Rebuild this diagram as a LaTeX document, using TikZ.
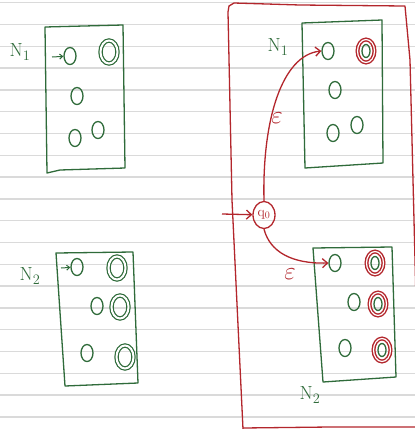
\documentclass[tikz,border=0pt]{standalone}
\usetikzlibrary{shapes.geometric,arrows.meta}
\definecolor{grn}{HTML}{2F6B3A}
\definecolor{rd}{HTML}{B3262C}
\definecolor{rule}{HTML}{DADADA}
\tikzset{
  ruleline/.style={draw=rule, line width=1.4pt},
  boxg/.style={draw=grn, line width=1.3pt, line join=round},
  boxr/.style={draw=rd, line width=1.3pt, line join=round, line cap=round},
  st/.style={draw=grn, ellipse, line width=1.3pt, minimum width=12pt, minimum height=17pt, inner sep=0pt},
  acc/.style={st, minimum width=17pt, minimum height=23pt, double=white, double distance=2pt, line width=1.2pt},
  inner/.style={st, minimum width=8pt, minimum height=13pt},
  racc/.style={draw=rd, ellipse, minimum width=17pt, minimum height=23pt, inner sep=0pt, double=white, double distance=1.2pt, line width=1.4pt},
  lab/.style={text=grn, font=\fontsize{19}{19}\selectfont, inner sep=0pt},
  eps/.style={text=rd, font=\fontsize{28}{28}\selectfont, inner sep=0pt},
  garr/.style={draw=grn, line width=1pt, -{Straight Barb[length=3pt,width=5pt]}},
  rarr/.style={draw=rd, line width=1.3pt, -{Straight Barb[length=5pt,width=9pt]}},
}
\begin{document}
\begin{tikzpicture}[x=1pt,y=-1pt]
\useasboundingbox (0,0) rectangle (415,429);
\fill[white] (0,0) rectangle (415,429);
\foreach \k in {0,...,19} \draw[ruleline] (0,{2.7+21.8*\k}) -- (415,{2.7+21.8*\k});

% left N1
\draw[boxg] (45,27) -- (123,25) -- (125,168) -- (60,170) -- (47,173) -- cycle;
\node[lab] (ln1) at (20,52) {N$_1$};
\node[st] (a1) at (70,56) {};
\node[acc] (a2) at (109,52) {};
\node[st] (a3) at (77,96) {};
\node[st] (a4) at (75,138) {};
\node[st] (a5) at (98,130) {};
\coordinate (a0) at (52,57);
\draw[garr] (a0) -- (a1);

% left N2
\draw[boxg] (56,253) -- (133,252) -- (138,383) -- (65,386) -- cycle;
\node[lab] (ln2) at (30,276) {N$_2$};
\node[st] (b1) at (77,267) {};
\node[acc] (b2) at (117,268) {};
\node[st] (b3) at (97,306) {};
\node[acc] (b4) at (120,307) {};
\node[st] (b5) at (87,353) {};
\node[acc] (b6) at (125,357) {};
\coordinate (b0) at (61,268);
\draw[garr] (b0) -- (b1);

% red outer box
\draw[boxr] (243,429) -- (232,200) -- (228,12) -- (229,6) -- (234,3) -- (300,5) -- (405,6) -- (410,60) -- (416,300);
\draw[boxr] (243,428) -- (330,427) -- (415,427);

% right N1
\draw[boxg] (302,23) -- (382,20) -- (383,163) -- (305,168) -- cycle;
\node[lab] (rn1) at (278,47) {N$_1$};
\node[st] (c1) at (328,51) {};
\node[inner] (c2) at (366,51) {};
\node[racc] (c2r) at (366,51) {};
\node[st] (c3) at (335,90) {};
\node[st] (c4) at (333,133) {};
\node[st] (c5) at (357,125) {};

% right N2
\draw[boxg] (313,248) -- (392,247) -- (396,377) -- (323,382) -- cycle;
\node[lab] (rn2) at (310,395) {N$_2$};
\node[st] (d1) at (335,263) {};
\node[inner] (d2) at (375,263) {};
\node[racc] (d2r) at (375,263) {};
\node[st] (d3) at (354,302) {};
\node[inner] (d4) at (378,304) {};
\node[racc] (d4r) at (378,304) {};
\node[st] (d5) at (345,348) {};
\node[inner] (d6) at (382,350) {};
\node[racc] (d6r) at (382,350) {};

% new start state
\node[draw=rd, ellipse, line width=1.3pt, minimum width=22pt, minimum height=27pt, inner sep=0pt, text=rd, font=\fontsize{14}{14}\selectfont] (q0) at (264,215) {q$_0$};
\coordinate (qin) at (222,214);
\draw[rarr] (qin) -- (q0);

\draw[rarr] (q0.north) .. controls (262,120) and (282,55) .. (c1.west);
\draw[rarr] (q0.south) .. controls (270,252) and (292,264) .. (d1.west);
\node[eps] (e1) at (277,118) {$\varepsilon$};
\node[eps] (e2) at (290,274) {$\varepsilon$};
\end{tikzpicture}
\end{document}
